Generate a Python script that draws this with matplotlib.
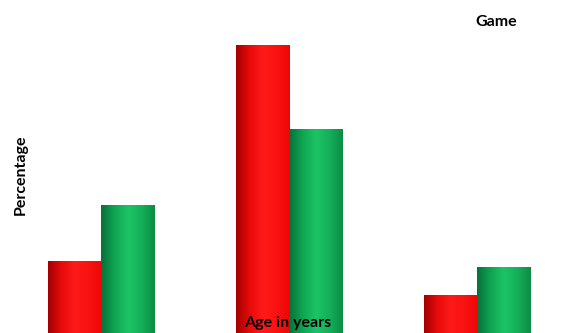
import numpy as np
import matplotlib.pyplot as plt
from matplotlib.colors import LinearSegmentedColormap

# values (axis scale is hidden, so these are estimates)
age_groups = ["<20", "20-40", ">40"]
series_a = [28, 82, 19.5]   # red
series_b = [42, 61, 26.5]   # green

red_cm = LinearSegmentedColormap.from_list(
    "red", ["#a00000", "#e80a0a", "#ff1a1a", "#f81212", "#ee0606"])
green_cm = LinearSegmentedColormap.from_list(
    "green", ["#07703a", "#10a452", "#1cc466", "#14b05a", "#0c8c44"])

fig = plt.figure(figsize=(5.68, 3.33), dpi=100)
ax = fig.add_axes([0, 0, 1, 1])

x = np.arange(len(age_groups))
w = 0.282
grad = np.linspace(0, 1, 256).reshape(1, -1)

bars_a = ax.bar(x - w / 2, series_a, w, color="none", edgecolor="none")
bars_b = ax.bar(x + w / 2, series_b, w, color="none", edgecolor="none")

for bars, cm in ((bars_a, red_cm), (bars_b, green_cm)):
    for b in bars:
        x0, y0 = b.get_x(), b.get_y()
        im = ax.imshow(grad, cmap=cm, aspect="auto",
                       extent=(x0, x0 + b.get_width(), y0, y0 + b.get_height()),
                       zorder=2)
        im.set_clip_path(b)

ax.set_xlim(-0.537, 2.484)
ax.set_ylim(10, 93.25)
ax.axis("off")

fnt = ["Lato", "DejaVu Sans"]
fig.text(0.037, 0.475, "Percentage", rotation=90, ha="center", va="center",
         fontsize=11.5, fontweight="bold", family=fnt)
fig.text(0.507, 0.03, "Age in years", ha="center", va="center",
         fontsize=11.5, fontweight="bold", family=fnt, zorder=5)
fig.text(0.873, 0.935, "Game", ha="center", va="center",
         fontsize=11.5, fontweight="bold", family=fnt)

fig.savefig("out.png", dpi=100)
